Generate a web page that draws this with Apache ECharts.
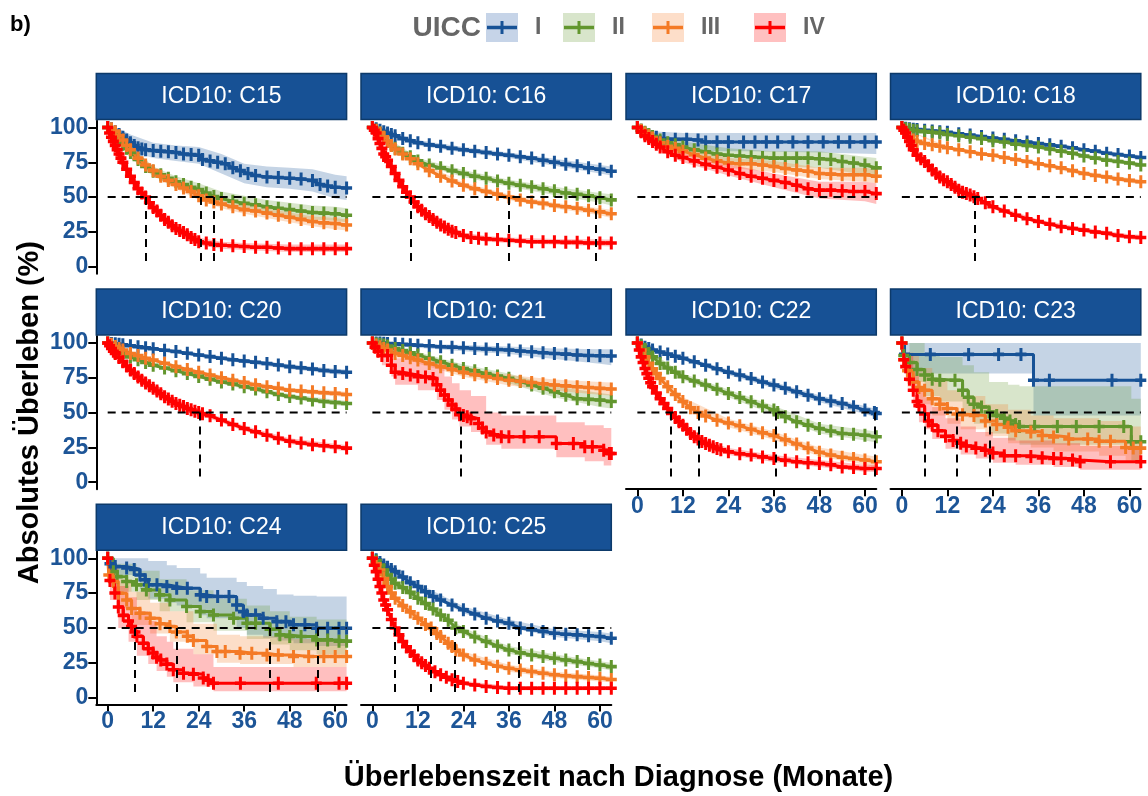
<!DOCTYPE html>
<html><head><meta charset="utf-8">
<script src="https://cdn.jsdelivr.net/npm/echarts@6/dist/echarts.min.js"></script>
<style>html,body{margin:0;padding:0;background:#fff}#c{width:1148px;height:796px}</style>
</head><body><div id="c"></div><script>
// ---------------- DATA ----------------
const panels = ['C15','C16','C17','C18','C20','C21','C22','C23','C24','C25'];
const stages = ['I','II','III','IV'];
const xTicks = [0,12,24,36,48,60];
const yTicks = [0,25,50,75,100];

// survival curves: [month, survival %]
const C15_I = [[0,100],[1,99],[2,97],[3,95],[4,93],[5,91],[6,89],[7,87],[8,85.5],[9,84.5],[10,84],[12,83.5],[14,83],[16,82.5],[18,82],[20,81],[22,80.5],[24,80],[25,77],[27,76],[29,75],[31,74],[33,71],[35,69],[37,67],[39,65.5],[42,64.5],[45,64],[48,63.5],[51,63],[54,62],[56,59],[58,58],[60,57],[63,56.5]];
const C15_II = [[0,100],[1,98],[2,95],[3,92],[4,88],[5,85],[6,82],[8,77],[10,72],[12,68.5],[14,66],[16,63.5],[18,61],[20,59],[22,57],[24,55.5],[26,53],[28,50.5],[30,49],[33,47],[36,45.5],[39,44.5],[42,43],[45,42],[48,41],[51,40],[54,39],[57,38.5],[60,38],[63,37]];
const C15_III = [[0,100],[1,99],[2,97],[3,94],[4,91],[5,87],[6,84],[8,78],[10,73],[12,69],[14,65],[16,62],[18,59],[20,56.5],[22,54],[24,51],[26,48],[28,46.5],[30,45],[33,43],[36,41],[39,40],[42,38.5],[45,37],[48,35.5],[51,34],[54,32.5],[57,31.5],[60,31],[63,30]];
const C15_IV = [[0,100],[0.5,96],[1,93],[1.5,90],[2,87],[2.5,84],[3,81],[3.5,78],[4,75],[5,70],[6,65],[7,60.5],[8,56],[9,53],[10,50],[11,46],[12,42.5],[13,40],[14,37],[15,34],[16,32],[17,29.5],[18,27.5],[19,26],[20,24.5],[21,23],[22,21],[23,19.5],[24,18],[26,17],[28,16],[30,15.5],[33,15],[36,14.5],[39,14],[42,14],[45,13.5],[48,13],[51,13],[54,13],[57,13],[60,13],[63,13]];
const C16_I = [[0,100],[1,99],[2,98],[3,97],[4,96],[5,95],[6,94],[8,92],[10,90.5],[12,89],[15,87.5],[18,86.5],[21,85],[24,84],[27,83],[30,82],[33,81],[36,80],[39,79],[42,78],[45,76.5],[48,75],[51,73.5],[54,72.5],[57,71],[60,70],[63,68.5]];
const C16_II = [[0,100],[1,98],[2,96],[3,93],[4,90],[5,87],[6,85],[8,81.5],[10,79],[12,76],[15,73],[18,71],[21,69],[24,67],[27,65],[30,63.5],[33,61.5],[36,60],[39,58.5],[42,57.5],[45,56],[48,54.5],[51,53],[54,52],[57,51],[60,49.5],[63,48]];
const C16_III = [[0,100],[1,98],[2,96],[3,93],[4,90],[5,87],[6,84.5],[8,81],[10,77.5],[12,74],[15,69],[18,65],[21,61.5],[24,58.5],[27,56],[30,54],[33,52],[36,50],[39,48],[42,46.5],[45,45.5],[48,44],[51,43],[54,42],[57,40.5],[60,39.5],[63,38]];
const C16_IV = [[0,100],[0.5,98],[1,96],[1.5,92],[2,88.5],[2.5,85],[3,81],[3.5,79],[4,76.5],[5,72],[6,67],[7,62],[8,57.5],[9,53.5],[10,50],[11,46.5],[12,43],[13,40.5],[14,38],[15,36],[16,34],[17,32],[18,30],[19,28.5],[20,27],[21,25.5],[22,24.5],[24,22.5],[26,21],[28,20.5],[30,20],[33,19.5],[36,19],[39,18.5],[42,18],[45,18],[48,18],[51,17.5],[54,17.5],[57,17],[60,17],[63,17]];
const C17_I = [[0,100],[1,98],[2,96],[3,94.5],[5,93],[7,92],[10,91.5],[13,91.5],[16,91],[18,89.5],[21,89.5],[24,89.5],[28,89.5],[31,89.5],[34,89.5],[37,89.5],[41,89.5],[45,89.5],[49,89.5],[53,89.5],[56,89.5],[60,89.5],[63,89.5]];
const C17_II = [[0,100],[1,98],[2,96.5],[3,95],[4,93.5],[6,91],[8,89],[10,87.5],[12,86],[15,84],[18,82.5],[21,81],[24,80],[27,79.5],[30,79],[33,78.5],[36,78],[39,78],[42,78],[45,78],[48,77.5],[51,77],[54,75.5],[57,74.5],[60,73],[63,71]];
const C17_III = [[0,100],[1,98],[2,96],[3,94],[4,92.5],[6,89],[8,86.5],[10,85],[12,83],[15,80.5],[18,78],[21,76],[24,74.5],[27,74],[30,74],[33,73],[36,72],[39,70.5],[42,69.5],[45,68.5],[48,67],[51,66.5],[54,66],[57,66],[60,66],[63,65]];
const C17_IV = [[0,100],[1,97],[2,94],[3,92],[4,90],[5,88],[6,86],[8,82.5],[10,80],[12,78.5],[15,76],[18,73.5],[21,71.5],[24,69.5],[27,67],[30,65],[33,63.5],[36,62],[39,60.5],[42,58.5],[45,56],[48,55],[51,55],[54,54.5],[57,54],[60,54],[63,52.5]];
const C18_I = [[0,100],[1,99.5],[2,99],[3,98.8],[4,98.5],[6,98],[8,97.5],[10,97],[12,96.5],[15,95.5],[18,94.5],[21,93.5],[24,92.5],[27,91.5],[30,90.5],[33,89.5],[36,88.5],[39,87.5],[42,86.5],[45,85.5],[48,84],[51,83],[54,81.5],[57,80.5],[60,79.5],[63,78.5]];
const C18_II = [[0,100],[1,99],[2,98.5],[3,98],[4,97.7],[6,97],[8,96.5],[10,96],[12,95],[15,94],[18,93],[21,92],[24,90.5],[27,89.5],[30,88],[33,87],[36,86],[39,84.5],[42,83],[45,81.5],[48,79.5],[51,78],[54,76.5],[57,75.5],[60,74.5],[63,73]];
const C18_III = [[0,100],[1,96],[2,93],[3,91],[4,90],[6,88.5],[8,87.5],[10,86.5],[12,85.5],[15,84],[18,82.5],[21,81],[24,80],[27,78.5],[30,77],[33,75.5],[36,74],[39,72.5],[42,71],[45,69],[48,67],[51,65.5],[54,64.5],[57,63],[60,62],[63,61]];
const C18_IV = [[0,100],[0.5,98],[1,96],[1.5,93],[2,90],[2.5,87],[3,84],[4,80],[5,77.5],[6,75.5],[7,72.5],[8,69.5],[9,67],[10,64.5],[11,62.5],[12,61],[13,59],[14,57],[15,55],[16,53.5],[17,52.5],[18,51.5],[19,50.2],[20,49],[22,46],[24,43],[27,40],[30,37],[33,34.5],[36,32.5],[39,30.5],[42,28.7],[45,27.5],[48,26.3],[51,25],[54,24],[57,22.5],[60,21.5],[63,21]];
const C20_I = [[0,100],[1,99.7],[2,99.4],[3,99],[4,98.7],[6,98],[8,97.3],[10,96.5],[12,95.8],[15,94.8],[18,93.8],[21,92.6],[24,91.4],[27,90.2],[30,89],[33,88],[36,87],[39,86.2],[42,85.3],[45,84.2],[48,83],[51,82.2],[54,81.3],[57,80.3],[60,79.5],[63,79]];
const C20_II = [[0,100],[1,98],[2,96],[3,94],[4,92.5],[6,90],[8,88],[10,86],[12,84],[15,82],[18,80],[21,78],[24,76],[27,74],[30,72],[33,70.5],[36,68.5],[39,67],[42,65],[45,63],[48,61.5],[51,60.5],[54,59],[57,58],[60,57.3],[63,56.5]];
const C20_III = [[0,100],[1,99],[2,97.5],[3,96],[4,95],[6,92.5],[8,91],[10,89],[12,87.7],[15,85.5],[18,83],[21,81],[24,79],[27,77],[30,75],[33,73.3],[36,71.7],[39,70],[42,68.6],[45,67.5],[48,66],[51,65.5],[54,65],[57,64.3],[60,63.8],[63,63]];
const C20_IV = [[0,100],[0.5,98],[1,96],[1.5,94],[2,92.5],[3,89.5],[4,86.5],[5,83.5],[6,80.5],[7,78],[8,75.5],[9,73.3],[10,71.3],[11,69.3],[12,67.4],[13,65.5],[14,63.5],[15,61.4],[16,59.8],[17,58.2],[18,56.6],[19,55.3],[20,54.3],[21,53],[22,52],[23,51],[24,50],[25,49.2],[27,47.7],[30,44.6],[33,41.5],[36,38.6],[39,36.2],[42,33.8],[45,31.5],[48,29.5],[51,28.2],[54,27],[57,26.2],[60,25.5],[63,24.5]];
const C21_I = [[0,100],[1,100],[2,100],[3,99.8],[4,99.6],[6,99.5],[8,99],[10,98.7],[12,98.3],[15,98],[18,97.3],[21,97],[24,96.5],[27,96],[30,95.6],[33,95.3],[36,95],[39,94.3],[42,93.7],[45,93],[48,92.5],[51,92],[54,91.3],[57,91],[60,90.8],[63,90.6]];
const C21_II = [[0,100],[1,99.5],[2,99],[3,98.5],[4,97.8],[6,96],[8,94.5],[10,93],[12,91.3],[15,89],[18,86.5],[21,84],[24,81.7],[27,80],[30,78],[33,76.3],[36,74.6],[39,72.3],[42,69.8],[45,67.5],[48,65],[51,62.5],[54,60],[57,59.5],[60,59],[63,58]];
const C21_III = [[0,100],[1,98.5],[2,97.3],[3,96],[4,95],[6,92.5],[8,91],[10,89.3],[12,87.7],[15,85.3],[18,83],[21,81],[24,78.8],[27,77.2],[30,75.8],[33,74.5],[36,73.3],[39,72.5],[42,71.6],[45,70.7],[48,69.8],[51,69.2],[54,68.6],[57,68],[60,67.4],[63,67]];
const C21_IV = [[0,100],[0.7,97],[1.5,94],[2.5,91],[4,91],[5,84],[6,79],[8,78],[10,77],[12,75.7],[14,75.5],[16,74.5],[17,70],[18,66],[19,62.6],[20,59],[21,55.4],[22,52.5],[23,48.5],[24,48],[25,47],[26,45.6],[28,42.2],[29,39],[30,36],[32,34],[34,32.7],[36,32.7],[40,32.7],[44,32.7],[48.5,27.8],[53,27.8],[56,25.5],[58,25.5],[61,23],[62.5,20.7],[63,20.7]];
const C22_I = [[0,100],[1,98.5],[2,97],[3,96],[4,95],[6,93.5],[8,92],[10,90.5],[12,89],[15,86.5],[18,84],[21,81.5],[24,79],[27,77],[30,74.5],[33,72],[36,69.8],[39,67.5],[42,65],[45,62.5],[48,60],[51,58.3],[54,56.6],[57,54.2],[60,51.8],[62.5,50],[63,49.4]];
const C22_II = [[0,100],[1,98],[2,95.5],[3,92.5],[4,90],[6,85.3],[8,82],[10,79],[12,75.7],[15,72.7],[18,69.8],[21,66.8],[24,63.8],[27,60.8],[30,57.8],[33,54.8],[36,51.8],[37,50],[39,47],[42,43.4],[45,41],[48,38.6],[51,36.8],[54,35],[57,34.4],[60,33.8],[63,32.6]];
const C22_III = [[0,100],[1,95],[2,90],[3,85.5],[4,81.5],[5,78],[6,74.5],[8,68.5],[10,63],[12,58],[14,53.5],[16,50],[18,47.5],[21,44.5],[24,42.5],[27,40.5],[30,38],[33,35.5],[36,33.5],[39,30.5],[42,27.5],[45,24.5],[48,21.5],[51,19.5],[54,18],[57,17],[60,15.9],[63,14.7]];
const C22_IV = [[0,100],[0.5,95],[1,90],[1.5,86],[2,81.7],[2.5,78],[3,74.6],[3.5,71.5],[4,68.6],[5,64],[6,60],[7,56.5],[8,53],[9,49.4],[10,46.5],[11,43.5],[12,41],[13,38],[14,35],[15,32.7],[16,31],[17,29.3],[18,27.9],[19,26.6],[20,25.5],[21,24.3],[22,23.3],[24,21.9],[27,20.5],[30,19.5],[33,18.2],[36,17],[39,15.8],[42,14.7],[45,14],[48,13.5],[51,12.5],[54,11],[57,10.5],[60,9.9],[63,9.8]];
const C23_I = [[0,100],[0.7,91.8],[7.5,91.8],[17.6,91.8],[25.5,91.8],[31.4,91.8],[34.7,73.3],[38.9,73.3],[55.4,73.3],[63,73.3]];
const C23_II = [[0,100],[0.5,91],[2,86],[4,81],[6,77],[8,74],[10,73.3],[14,73.3],[16,66],[17.5,61],[19,56],[21,54],[23,50.5],[25,48],[27,46],[28.5,44],[30,41.5],[31,40],[35,40],[41,40],[46,40],[52,40],[58.5,40],[60.5,29],[63,29]];
const C23_III = [[0,100],[0.5,88],[1.5,80],[3,72],[4.5,68],[6,66],[8,60],[10,56],[12,53],[14.5,49],[16,48.5],[19,48],[22,44],[25,41.5],[28,39.5],[30,37],[34,36],[37,33.5],[40,32.5],[44,31],[49,31],[52,29.5],[55,29.5],[59,25],[61,24.5],[63,24.5]];
const C23_IV = [[0,100],[0.5,88],[1,83],[2,74],[3,66],[4,58],[4.5,55],[6,49],[7,44],[8,41],[9.5,37],[11.5,33],[13.5,30],[15.5,28],[17,26],[19.5,24.5],[22,23],[24,21],[27,19],[30,19],[34,18.5],[37,17.5],[40,17],[42,17],[45,16],[47,14.7],[55,14.7],[63,14.7]];
const C24_I = [[0,100],[0.6,96],[2,94],[5,93],[7,92],[8.5,88],[9.9,84.5],[10.7,81],[13,81],[15.6,79.7],[18.2,78.5],[21,78.5],[24.4,73.7],[26.1,72.5],[29,72.5],[32,72.5],[34,66.5],[35.8,61.7],[36.7,59.3],[39,59.3],[41,57],[44.6,54.5],[47,54.5],[49,52.2],[52,52.2],[55.1,49.8],[58,49.8],[61,49.8],[63,49.8]];
const C24_II = [[0,100],[1.5,90.4],[2.5,86.8],[5,83.3],[7.6,80.9],[10.2,77.3],[13.7,73.7],[16.4,70],[20.8,65.3],[24.4,61.7],[27.9,59.3],[33.2,57],[36.7,53.3],[39,53.3],[42.8,49],[45.4,45],[48,43.8],[51,43.8],[55.1,41.4],[58,41.4],[61,40.5],[63,40.5]];
const C24_III = [[0,100],[0.3,88],[1.5,83.3],[2.8,74.9],[5,70],[6.3,64],[8.5,60.5],[11.2,57],[13.8,53],[16.4,51],[18.1,47],[21,44],[22.6,41],[26.1,36.6],[28.8,33],[31,33],[34.9,31.8],[38,31.8],[42,30.6],[45,30.6],[49,29.4],[53,29.4],[57,29.4],[60,29.4],[63,29.4]];
const C24_IV = [[0,100],[0.6,84],[1.9,75],[2.8,65],[4.1,59],[5.5,55],[6.3,51],[7.2,47],[7.7,44],[9.4,39],[10.7,35],[12,32],[12.9,29],[14,27],[15.6,24],[17.3,19.9],[20,17.5],[22.6,16.8],[25.2,14],[26.5,12.5],[27.9,10.3],[35,10.3],[45,10.3],[55,10.3],[61,10.3],[63,10.3]];
const C25_I = [[0,100],[1,99],[2,97],[3,95.2],[4,93.5],[5,92],[6,90.4],[8,86.5],[10,82.5],[12,79.7],[14,76],[16,72.5],[18,70],[21,66.5],[24,63],[27,60],[30,57],[33,55],[36,53.3],[39,50],[42,48.6],[45,47.5],[48,46.2],[51,45.5],[54,45],[57,44.3],[60,43.8],[63,42.6]];
const C25_II = [[0,100],[1,98],[2,95],[3,91.6],[4,88],[5,85],[6,82],[8,79],[10,75.5],[12,71.3],[14,67.5],[16,63.5],[18,59.3],[20,55.5],[22,50],[24,47.4],[27,43.5],[30,40.2],[33,37],[36,34.2],[39,32.2],[42,30.6],[45,29.4],[48,28.2],[51,27],[54,25.8],[57,24.5],[60,23.4],[63,22.2]];
const C25_III = [[0,100],[1,96],[2,91.6],[3,85.5],[4,79.7],[5,75],[6,71.3],[8,66],[10,61.5],[12,57],[14,52.5],[15.5,50],[17,46],[18,43.8],[20,39],[21,36.6],[22,34],[24,30.6],[27,27],[30,24.6],[33,22.5],[36,21],[39,19.8],[42,18.7],[45,17.5],[48,16.3],[51,15.6],[54,15],[57,14.4],[60,13.9],[63,13]];
const C25_IV = [[0,100],[0.5,95],[1,90.4],[1.5,85],[2,79.7],[2.5,75],[3,70],[3.5,66.5],[4,63],[5,56],[6,50],[7,45],[8,40.2],[9,36.5],[10,33],[11,30],[12,27],[13,25],[14,23],[15,21],[16.5,18.5],[18,16.3],[19.5,14.5],[21,12.7],[22.5,11.5],[24,10.3],[27,9],[30,7.9],[33,7.2],[36,6.7],[39,6.7],[42,6.7],[45,6.7],[48,6.7],[51,6.7],[54,6.7],[57,6.7],[60,6.7],[63,6.7]];

// confidence bands: [month, lower %, upper %]
const C15_I_ci = [[0,100,100],[3,90,99],[6,83,95],[12,78,89],[18,76,87],[24,74,86],[30,67,81],[36,60,74],[42,57,72],[48,56,71],[54,54,70],[60,49,66],[63,48,65]];
const C15_II_ci = [[0,100,100],[6,78,86],[12,65,72],[18,57,65],[24,51,60],[30,44,54],[36,40,51],[42,38,48],[48,36,46],[54,34,44],[60,33,43],[63,32,42]];
const C15_III_ci = [[0,100,100],[6,81,87],[12,66,72],[18,56,62],[24,48,54],[30,42,48],[36,38,44],[42,35,42],[48,32,39],[54,29,36],[60,27,35],[63,26,34]];
const C15_IV_ci = [[0,100,100],[3,78,84],[6,62,68],[9,50,56],[12,40,45],[15,31,37],[18,25,30],[21,20,26],[24,15.5,21],[30,13,18],[36,12,17],[48,10.5,16],[63,10.5,16]];
const C16_I_ci = [[0,100,100],[12,87,91],[24,82,86],[36,78,82],[48,72.5,77.5],[60,67,73],[63,65.5,72]];
const C16_II_ci = [[0,100,100],[12,74,78],[24,64.5,69.5],[36,57.5,62.5],[48,51.5,57.5],[60,46,53],[63,44,52]];
const C16_III_ci = [[0,100,100],[12,72,76],[24,56.5,60.5],[36,48,52],[48,42,46],[60,37,42],[63,35,41]];
const C16_IV_ci = [[0,100,100],[3,79,83],[6,65,69],[9,51.5,55.5],[12,41,45],[15,34,38],[18,28,32],[24,20.5,24.5],[30,18,22],[36,17,21],[48,16,20],[63,14.5,19.5]];
const C17_I_ci = [[0,100,100],[6,88,97],[12,86,96],[18,83,96],[30,83,96],[48,82,96],[63,81,96]];
const C17_II_ci = [[0,100,100],[6,88,94],[12,82,90],[24,75,85],[36,72,83],[48,71,83],[60,66,79],[63,64,78]];
const C17_III_ci = [[0,100,100],[6,86,92],[12,80,86],[24,71,78],[36,68,76],[48,63,71],[60,61,71],[63,60,70]];
const C17_IV_ci = [[0,100,100],[6,83,89],[12,75,82],[24,65.5,73.5],[36,57,67],[48,49,61],[60,47,61],[63,45,60]];
const C18_I_ci = [[0,100,100],[12,95.8,97.2],[24,91.5,93.5],[36,87.3,89.7],[48,82.7,85.3],[60,78,81],[63,77,80]];
const C18_II_ci = [[0,100,100],[12,94.2,95.8],[24,89.5,91.5],[36,84.8,87.2],[48,78,81],[60,73,76],[63,71.3,74.7]];
const C18_III_ci = [[0,100,100],[12,84.5,86.5],[24,78.8,81.2],[36,72.7,75.3],[48,65.5,68.5],[60,60.3,63.7],[63,59.3,62.7]];
const C18_IV_ci = [[0,100,100],[3,82.5,85.5],[6,74,77],[12,59.5,62.5],[18,50,53],[24,41.5,44.5],[36,31,34],[48,24.5,28],[60,19.7,23.3],[63,19,23]];
const C20_I_ci = [[0,100,100],[12,94.8,96.8],[24,90.1,92.7],[36,85.5,88.5],[48,81.3,84.7],[60,77.5,81.5],[63,77,81]];
const C20_II_ci = [[0,100,100],[12,83,85],[24,74.7,77.3],[36,67,70],[48,59.7,63.3],[60,55.3,59.3],[63,54.5,58.5]];
const C20_III_ci = [[0,100,100],[12,86.7,88.7],[24,77.7,80.3],[36,70.2,73.2],[48,64.3,67.7],[60,62,65.6],[63,61,65]];
const C20_IV_ci = [[0,100,100],[6,79,82],[12,65.8,69],[18,55,58.3],[24,48.2,51.8],[30,42.7,46.5],[36,36.7,40.5],[48,27.5,31.5],[60,23.3,27.7],[63,22.2,26.8]];
const C21_I_ci = [[0,100,100],[12,96.5,99.5],[24,94,98.5],[36,92,97.5],[48,88.5,96],[60,85,95.5],[63,84,95.5]];
const C21_II_ci = [[0,100,100],[12,89,93.5],[24,79,84.5],[36,71,78],[48,61,69],[60,54,64],[63,53,63]];
const C21_III_ci = [[0,100,100],[12,85.3,90],[24,75.8,81.8],[36,69.5,77],[48,65.8,73.8],[60,62.8,72],[63,62.3,71.7]];
const C21_IV_ci = [[0,100,100],[2.5,84,97],[5,76,92],[6,70,89],[12,66,86],[17,59,82],[19,52,76],[21,45,71],[23,40,66],[26,36,62],[30,27,50],[34,24,48],[48.5,18,43],[56,15,41],[61,12,39],[63,11,39]];
const C22_I_ci = [[0,100,100],[12,87.5,90.5],[24,77,81],[36,67.5,72],[48,57.5,62.5],[60,49,54.7],[63,46.5,52.5]];
const C22_II_ci = [[0,100,100],[12,73.5,78],[24,61,66.5],[36,48.5,55],[48,35,42],[60,30,37.5],[63,28.5,36.5]];
const C22_III_ci = [[0,100,100],[6,72,77],[12,55,61],[24,39.5,45.5],[36,30.5,36.5],[48,18.5,25],[60,12.5,19.5],[63,11,18.5]];
const C22_IV_ci = [[0,100,100],[3,72,77],[6,57.5,62.5],[9,47,52],[12,38.5,43.5],[18,25.5,30.5],[24,19.5,24.5],[36,14.5,19.5],[48,11,16],[60,7.5,12.5],[63,7.3,12.5]];
const C23_I_ci = [[0,100,100],[0.7,78,100],[34.7,48,100],[63,48,100]];
const C23_II_ci = [[0,100,100],[2,72,100],[6,62,92],[10,58,90],[16,48,84],[19,42,79],[23,35,72],[28,30,70],[31,27,69],[58.5,27,69],[60.5,16,60],[63,16,60]];
const C23_III_ci = [[0,100,100],[1.5,68,92],[4.5,56,82],[8,48,74],[12,42,66],[15.5,38,62],[22,33,56],[28,28,52],[34,25,48],[40,22,46],[52,19,44],[59,15,40],[63,15,40]];
const C23_IV_ci = [[0,100,100],[1,72,93],[3,54,78],[4.5,43,67],[6,38,61],[8,31,54],[11.5,24,46],[15.5,20,40],[19.5,17,36],[24,14,32],[30,12.5,30],[40,11,28],[47,9,26],[63,9,26]];
const C24_I_ci = [[0,100,100],[0.6,88,100],[8.5,78,100],[10.7,71,98],[15.6,68,95],[18.2,66,93],[24.4,59,89],[26.1,57,86],[34,50,83],[36.7,45,80],[41,43,78],[44.6,41,74],[49,39,73],[55.1,37,72.5],[63,36,72.5]];
const C24_II_ci = [[0,100,100],[2.5,76,96],[7.6,70,91],[13.7,62,85],[20.8,54,77],[27.9,48,71],[36.7,42,66],[42.8,38,62],[48,34,58],[55.1,31,56],[63,30,55]];
const C24_III_ci = [[0,100,100],[2.8,64,85],[6.3,52,76],[11.2,46,68],[16.4,40,62],[22.6,31,53],[28.8,25,45],[34.9,24,44],[49,22,42],[63,22,42]];
const C24_IV_ci = [[0,100,100],[0.6,70,94],[2.8,50,80],[5.5,40,72],[7.7,30,62],[10.7,24,55],[12.9,19,44],[15.6,15,40],[17.3,11,35],[22.6,8,31],[27.9,4.5,22],[63,4.3,21]];
const C25_I_ci = [[0,100,100],[6,89,92],[12,77.5,82],[24,60.5,65.5],[36,50.5,56],[48,43.5,49],[60,40.5,47],[63,39,46]];
const C25_II_ci = [[0,100,100],[6,80,84],[12,69,73.5],[24,45,50],[36,31.5,37],[48,25.5,31],[60,21,26],[63,19.5,25]];
const C25_III_ci = [[0,100,100],[6,69,73.5],[12,54.5,59.5],[18,41,46.5],[24,28,33],[36,18.5,23.5],[48,14,18.5],[60,11.5,16],[63,11,15]];
const C25_IV_ci = [[0,100,100],[2,77.5,82],[4,60.5,65.5],[6,47.5,52.5],[8,38,42.5],[12,25,29],[18,14.5,18],[24,8.8,12],[36,5.2,8.3],[63,5.2,8.3]];

// median survival times (months) per panel
const C15_med = [28,24.5,10];
const C16_med = [59,36,10];
const C17_med = [];
const C18_med = [19.3];
const C20_med = [24.4];
const C21_med = [23.3];
const C22_med = [62.5,36.6,16.2,8.9];
const C23_med = [23.3,14.5,6];
const C24_med = [55.4,42.8,18.1,7.2];
const C25_med = [38.5,21.7,15.5,5.9];

// ---------------- BUILD ----------------
const SRC = {
  C15:{I:C15_I,II:C15_II,III:C15_III,IV:C15_IV,ci:{I:C15_I_ci,II:C15_II_ci,III:C15_III_ci,IV:C15_IV_ci},med:C15_med},
  C16:{I:C16_I,II:C16_II,III:C16_III,IV:C16_IV,ci:{I:C16_I_ci,II:C16_II_ci,III:C16_III_ci,IV:C16_IV_ci},med:C16_med},
  C17:{I:C17_I,II:C17_II,III:C17_III,IV:C17_IV,ci:{I:C17_I_ci,II:C17_II_ci,III:C17_III_ci,IV:C17_IV_ci},med:C17_med},
  C18:{I:C18_I,II:C18_II,III:C18_III,IV:C18_IV,ci:{I:C18_I_ci,II:C18_II_ci,III:C18_III_ci,IV:C18_IV_ci},med:C18_med},
  C20:{I:C20_I,II:C20_II,III:C20_III,IV:C20_IV,ci:{I:C20_I_ci,II:C20_II_ci,III:C20_III_ci,IV:C20_IV_ci},med:C20_med},
  C21:{I:C21_I,II:C21_II,III:C21_III,IV:C21_IV,ci:{I:C21_I_ci,II:C21_II_ci,III:C21_III_ci,IV:C21_IV_ci},med:C21_med},
  C22:{I:C22_I,II:C22_II,III:C22_III,IV:C22_IV,ci:{I:C22_I_ci,II:C22_II_ci,III:C22_III_ci,IV:C22_IV_ci},med:C22_med},
  C23:{I:C23_I,II:C23_II,III:C23_III,IV:C23_IV,ci:{I:C23_I_ci,II:C23_II_ci,III:C23_III_ci,IV:C23_IV_ci},med:C23_med},
  C24:{I:C24_I,II:C24_II,III:C24_III,IV:C24_IV,ci:{I:C24_I_ci,II:C24_II_ci,III:C24_III_ci,IV:C24_IV_ci},med:C24_med},
  C25:{I:C25_I,II:C25_II,III:C25_III,IV:C25_IV,ci:{I:C25_I_ci,II:C25_II_ci,III:C25_III_ci,IV:C25_IV_ci},med:C25_med}
};

const STEPPED = ['C21-IV','C23-I','C23-II','C23-III','C23-IV','C24-I','C24-II','C24-III','C24-IV'];
const COLORS = ['#175296','#62962E','#F47A25','#FF0000'];
const PALE = ['#C6D4E8','#D8E5CB','#FDDEC9','#FFC0C0'];
const TICK_COLOR = '#1D5597';
const FONT = '"Liberation Sans", Arial, sans-serif';
const PLUS = 'path://M4,0H7V4H11V7H7V11H4V7H0V4H4Z';

const COL_LEFT = [96.3, 361, 626, 890.5];
const ROW_TOP = [120.5, 336, 551.3];
const PW = 250.3, PH = 153.2, STRIP_H = 46;
const X_MIN = -3, X_MAX = 63, Y_MIN = -5, Y_MAX = 105;

function hexA(hex, a) {
  const n = parseInt(hex.slice(1), 16);
  return 'rgba(' + ((n >> 16) & 255) + ',' + ((n >> 8) & 255) + ',' + (n & 255) + ',' + a + ')';
}

const grids = [], xAxes = [], yAxes = [], series = [], graphics = [];

panels.forEach((name, i) => {
  const row = Math.floor(i / 4), col = i % 4;
  const left = COL_LEFT[col], top = ROW_TOP[row];
  const showLeft = col === 0;
  const showBottom = i + 4 >= panels.length;
  grids.push({left: left, top: top, width: PW, height: PH, containLabel: false});
  xAxes.push({
    type: 'value', gridIndex: i, min: X_MIN, max: X_MAX,
    axisLine: {show: showBottom, onZero: false, lineStyle: {color: '#000', width: 2}},
    axisTick: {show: showBottom, customValues: xTicks, length: 7, lineStyle: {color: '#000', width: 2}},
    axisLabel: {show: showBottom, customValues: xTicks, color: TICK_COLOR, fontWeight: 'bold', fontSize: 23, fontFamily: FONT, margin: 6},
    splitLine: {show: false}
  });
  yAxes.push({
    type: 'value', gridIndex: i, min: Y_MIN, max: Y_MAX,
    axisLine: {show: showLeft, onZero: false, lineStyle: {color: '#000', width: 2}},
    axisTick: {show: showLeft, customValues: yTicks, length: 8, lineStyle: {color: '#000', width: 2}},
    axisLabel: {show: showLeft, customValues: yTicks, color: TICK_COLOR, fontWeight: 'bold', fontSize: 23, fontFamily: FONT, margin: 8},
    splitLine: {show: false}
  });

  const P = SRC[name];
  // confidence bands (one polygon per band, via the axis scales)
  stages.forEach((s, k) => {
    const step = STEPPED.indexOf(name + '-' + s) >= 0;
    const ci = P.ci[s];
    const fill = hexA(COLORS[k], 0.25);
    series.push({
      type: 'custom', xAxisIndex: i, yAxisIndex: i, data: ci, silent: true, clip: true, z: 1,
      encode: {x: 0, y: [1, 2]},
      renderItem: function (params, api) {
        if (params.dataIndex !== 0) return null;
        const pts = [];
        for (let j = 0; j < ci.length; j++) {
          if (step && j > 0) pts.push(api.coord([ci[j][0], ci[j - 1][1]]));
          pts.push(api.coord([ci[j][0], ci[j][1]]));
        }
        for (let j = ci.length - 1; j >= 0; j--) {
          pts.push(api.coord([ci[j][0], ci[j][2]]));
          if (step && j > 0) pts.push(api.coord([ci[j][0], ci[j - 1][2]]));
        }
        return {type: 'polygon', shape: {points: pts}, style: {fill: fill, stroke: null}};
      }
    });
  });
  // survival curves with censor marks
  stages.forEach((s, k) => {
    const step = STEPPED.indexOf(name + '-' + s) >= 0 ? 'end' : false;
    series.push({
      name: s, type: 'line', xAxisIndex: i, yAxisIndex: i, step: step,
      data: P[s], symbol: PLUS, symbolSize: [11, 13], showSymbol: true, showAllSymbol: true,
      lineStyle: {color: COLORS[k], width: 3}, itemStyle: {color: COLORS[k]}, z: 2
    });
  });
  // median lines
  series.push({
    type: 'line', xAxisIndex: i, yAxisIndex: i, data: [[0, 50], [X_MAX, 50]],
    symbol: 'none', silent: true, lineStyle: {color: '#000', width: 2, type: [8, 6]}, z: 3,
    markLine: {
      silent: true, symbol: 'none', label: {show: false}, animation: false,
      lineStyle: {color: '#000', width: 2, type: [8, 6]},
      data: P.med.map(m => [{coord: [m, 50]}, {coord: [m, 0]}])
    }
  });

  // facet strip
  graphics.push({type: 'rect', shape: {x: left, y: top - STRIP_H - 1, width: PW, height: STRIP_H},
    style: {fill: '#175195', stroke: '#0D3A6A', lineWidth: 1.5}, z: 10});
  graphics.push({type: 'text', x: left + PW / 2, y: top - STRIP_H / 2 - 1,
    style: {text: 'ICD10: ' + name, fill: '#fff', font: '23px ' + FONT,
      align: 'center', verticalAlign: 'middle', textAlign: 'center', textVerticalAlign: 'middle'}, z: 11});
});

// legend
const LEG_KEY_X = [486, 563, 652, 754];
const LEG_LABEL_X = [535, 612, 701, 803];
graphics.push({type: 'text', x: 481, y: 28, style: {text: 'UICC', fill: '#666666', font: 'bold 28px ' + FONT,
  align: 'right', verticalAlign: 'middle', textAlign: 'right', textVerticalAlign: 'middle'}});
stages.forEach((s, k) => {
  const x = LEG_KEY_X[k];
  graphics.push({type: 'rect', shape: {x: x, y: 13, width: 32, height: 29}, style: {fill: PALE[k]}});
  graphics.push({type: 'line', shape: {x1: x + 1, y1: 27.5, x2: x + 31, y2: 27.5}, style: {stroke: COLORS[k], lineWidth: 3.5}});
  graphics.push({type: 'line', shape: {x1: x + 16, y1: 21, x2: x + 16, y2: 34}, style: {stroke: COLORS[k], lineWidth: 3}});
  graphics.push({type: 'text', x: LEG_LABEL_X[k], y: 28, style: {text: s, fill: '#666666', font: 'bold 23px ' + FONT,
    align: 'left', verticalAlign: 'middle', textAlign: 'left', textVerticalAlign: 'middle'}});
});
// titles
graphics.push({type: 'text', x: 10, y: 25, style: {text: 'b)', fill: '#000', font: 'bold 22px ' + FONT,
  align: 'left', verticalAlign: 'middle', textAlign: 'left', textVerticalAlign: 'middle'}});
graphics.push({type: 'text', x: 618.5, y: 778, style: {text: 'Überlebenszeit nach Diagnose (Monate)', fill: '#000',
  font: 'bold 29px ' + FONT, align: 'center', verticalAlign: 'middle', textAlign: 'center', textVerticalAlign: 'middle'}});
graphics.push({type: 'text', x: 30, y: 412.6, rotation: Math.PI / 2, style: {text: 'Absolutes Überleben (%)', fill: '#000',
  font: 'bold 29px ' + FONT, align: 'center', verticalAlign: 'middle', textAlign: 'center', textVerticalAlign: 'middle'}});

const chart = echarts.init(document.getElementById('c'), null, {renderer: 'canvas'});
chart.setOption({
  animation: false,
  backgroundColor: '#fff',
  grid: grids, xAxis: xAxes, yAxis: yAxes, series: series,
  graphic: {elements: graphics}
});
</script></body></html>
